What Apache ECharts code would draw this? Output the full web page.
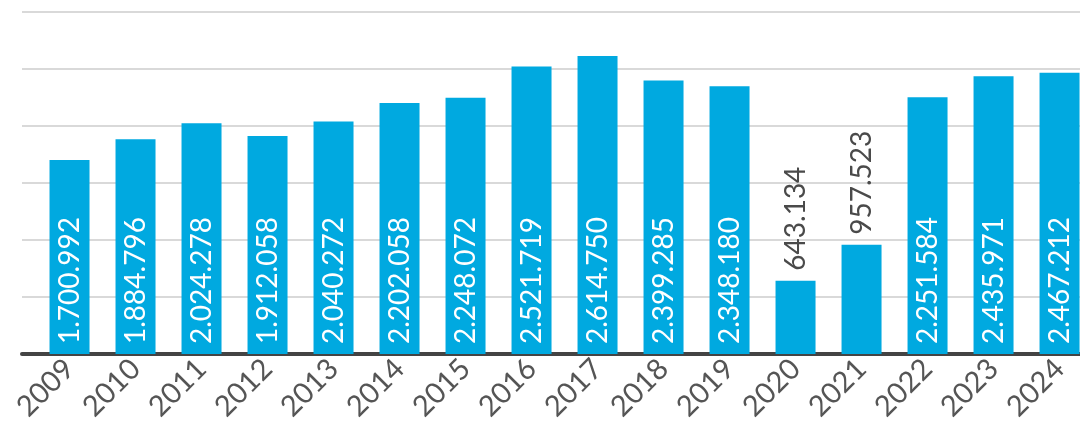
<!DOCTYPE html>
<html>
<head>
<meta charset="utf-8">
<script src="https://cdn.jsdelivr.net/npm/echarts@6/dist/echarts.min.js"></script>
<style>
  html, body { margin: 0; padding: 0; background: #fff; }
  #chart { width: 1080px; height: 428px; }
</style>
</head>
<body>
<div id="chart"></div>
<script>
  var years = ['2009', '2010', '2011', '2012', '2013', '2014', '2015', '2016',
               '2017', '2018', '2019', '2020', '2021', '2022', '2023', '2024'];
  var values = [1700992, 1884796, 2024278, 1912058, 2040272, 2202058, 2248072, 2521719,
                2614750, 2399285, 2348180, 643134, 957523, 2251584, 2435971, 2467212];
  var yTicks = [0, 500000, 1000000, 1500000, 2000000, 2500000, 3000000];

  var fmt = function (v) {
    return String(v).replace(/\B(?=(\d{3})+(?!\d))/g, '.');
  };

  var font = 'Lato, "Open Sans", sans-serif';

  var seriesData = values.map(function (v, i) {
    var item = { value: [i, v] };
    if (v < 1000000) {
      item.label = { position: 'top', color: '#4a4a4a', distance: 10 };
    }
    return item;
  });

  var myChart = echarts.init(document.getElementById('chart'));
  myChart.setOption({
    animation: false,
    grid: { left: 22, right: 0, top: 12, bottom: 74 },
    xAxis: {
      type: 'value',
      min: -0.72,
      max: 15.31,
      axisLine: { show: true, lineStyle: { color: '#444', width: 4 } },
      axisTick: { show: false },
      splitLine: { show: false },
      axisLabel: {
        customValues: years.map(function (y, i) { return i; }),
        formatter: function (v) { return years[Math.round(v)]; },
        rotate: 45,
        margin: 10,
        fontFamily: font,
        fontSize: 29,
        color: '#555'
      }
    },
    yAxis: {
      type: 'value',
      min: yTicks[0],
      max: yTicks[yTicks.length - 1],
      interval: yTicks[1] - yTicks[0],
      axisLine: { show: false },
      axisTick: { show: false },
      axisLabel: { show: false },
      splitLine: { lineStyle: { color: '#d9d9d9', width: 2 } }
    },
    series: [{
      type: 'bar',
      barWidth: 40,
      itemStyle: { color: '#00a9e0' },
      label: {
        show: true,
        position: 'insideBottom',
        distance: 10,
        rotate: 90,
        align: 'left',
        verticalAlign: 'middle',
        color: '#fff',
        fontFamily: font,
        fontSize: 28,
        formatter: function (p) { return fmt(p.value[1]); }
      },
      data: seriesData
    }]
  });
</script>
</body>
</html>
